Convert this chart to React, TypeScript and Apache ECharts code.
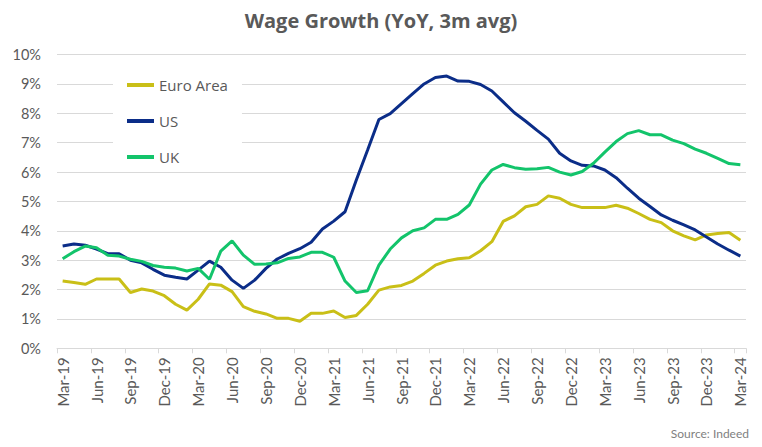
import React, { useEffect, useRef } from "react";
import * as echarts from "echarts";

const months: string[] = (() => {
  const names = ["Jan", "Feb", "Mar", "Apr", "May", "Jun", "Jul", "Aug", "Sep", "Oct", "Nov", "Dec"];
  const out: string[] = [];
  for (let y = 2019; y <= 2024; y++) {
    for (let m = 0; m < 12; m++) {
      if (y === 2019 && m < 2) continue;
      if (y === 2024 && m > 2) continue;
      out.push(`${names[m]}-${String(y).slice(2)}`);
    }
  }
  return out;
})();

const euroArea = [
  2.29, 2.24, 2.18, 2.36, 2.36, 2.36, 1.9, 2.02, 1.95, 1.79,
  1.5, 1.3, 1.67, 2.19, 2.15, 1.93, 1.42, 1.26, 1.17, 1.02,
  1.02, 0.92, 1.19, 1.19, 1.27, 1.05, 1.12, 1.5, 1.98, 2.09,
  2.14, 2.29, 2.55, 2.83, 2.97, 3.05, 3.08, 3.32, 3.63, 4.32,
  4.51, 4.82, 4.9, 5.19, 5.11, 4.9, 4.79, 4.79, 4.79, 4.87,
  4.77, 4.59, 4.39, 4.28, 4.0, 3.83, 3.69, 3.86, 3.91, 3.94,
  3.68,
];

const us = [
  3.48, 3.55, 3.51, 3.38, 3.22, 3.22, 3.0, 2.91, 2.69, 2.49,
  2.42, 2.36, 2.66, 2.97, 2.76, 2.32, 2.04, 2.32, 2.72, 3.04,
  3.23, 3.39, 3.61, 4.06, 4.33, 4.65, 5.73, 6.75, 7.79, 7.99,
  8.33, 8.67, 9.0, 9.22, 9.27, 9.1, 9.09, 8.98, 8.76, 8.39,
  8.02, 7.73, 7.42, 7.12, 6.64, 6.38, 6.23, 6.21, 6.07, 5.81,
  5.45, 5.11, 4.83, 4.54, 4.36, 4.2, 4.03, 3.79, 3.55, 3.34,
  3.14,
];

const uk = [
  3.05, 3.29, 3.48, 3.42, 3.17, 3.14, 3.03, 2.96, 2.82, 2.76,
  2.73, 2.63, 2.72, 2.35, 3.31, 3.66, 3.17, 2.86, 2.87, 2.91,
  3.06, 3.11, 3.27, 3.27, 3.1, 2.29, 1.9, 1.96, 2.83, 3.38,
  3.76, 4.0, 4.1, 4.39, 4.39, 4.56, 4.88, 5.59, 6.07, 6.26,
  6.15, 6.1, 6.11, 6.16, 6.0, 5.9, 6.02, 6.3, 6.68, 7.04,
  7.31, 7.41, 7.27, 7.27, 7.09, 6.97, 6.78, 6.64, 6.47, 6.29,
  6.25,
];

const FONT = "Lato, 'Open Sans', sans-serif";
const WIDE = "'Open Sans', Lato, sans-serif";
const GREY = "#595959";

export default function App() {
  const ref = useRef<HTMLDivElement>(null);
  useEffect(() => {
    document.body.style.margin = "0";
    if (!ref.current) return;
    const chart = echarts.init(ref.current, undefined, { renderer: "svg" });
    const mk = (name: string, data: number[], color: string) => ({
      name,
      type: "line",
      data,
      showSymbol: false,
      symbol: "none",
      lineStyle: { color, width: 3 },
      itemStyle: { color },
    });
    chart.setOption({
      animation: false,
      backgroundColor: "#ffffff",
      title: {
        text: "Wage Growth (YoY, 3m avg)",
        left: "center",
        top: 5,
        textStyle: { fontFamily: WIDE, fontSize: 20, fontWeight: "bold", color: GREY },
      },
      graphic: [
        {
          type: "text",
          right: 13,
          top: 427,
          style: { text: "Source: Indeed", fontFamily: FONT, fontSize: 12, fill: "#7f7f7f" },
        },
      ],
      legend: {
        orient: "vertical",
        left: 113,
        top: 71,
        backgroundColor: "#ffffff",
        padding: [5, 14, 5, 14],
        itemGap: 18,
        itemWidth: 27,
        itemHeight: 4,
        icon: "rect",
        textStyle: { fontFamily: WIDE, fontSize: 15, color: GREY, lineHeight: 18 },
        data: ["Euro Area", "US", "UK"],
      },
      grid: { left: 57, right: 16, top: 54.6, bottom: 98.7, containLabel: false },
      xAxis: {
        type: "category",
        data: months,
        boundaryGap: true,
        axisLine: { lineStyle: { color: "#d9d9d9", width: 1 } },
        axisTick: { show: true, interval: 2, length: 5, lineStyle: { color: "#d9d9d9" } },
        axisLabel: {
          interval: 2,
          rotate: 90,
          margin: 9,
          fontFamily: FONT,
          fontSize: 15,
          color: GREY,
        },
      },
      yAxis: {
        type: "value",
        min: 0,
        max: 10,
        interval: 1,
        axisLine: { show: false },
        axisTick: { show: false },
        splitLine: { lineStyle: { color: "#d9d9d9", width: 1 } },
        axisLabel: {
          formatter: (v: number) => `${v}%`,
          margin: 16,
          fontFamily: FONT,
          fontSize: 14.5,
          color: GREY,
        },
      },
      series: [
        mk("Euro Area", euroArea, "#c9bf17"),
        mk("US", us, "#0b2d88"),
        mk("UK", uk, "#13c46b"),
      ],
    });
    return () => chart.dispose();
  }, []);
  return <div ref={ref} style={{ width: 762, height: 447 }} />;
}
